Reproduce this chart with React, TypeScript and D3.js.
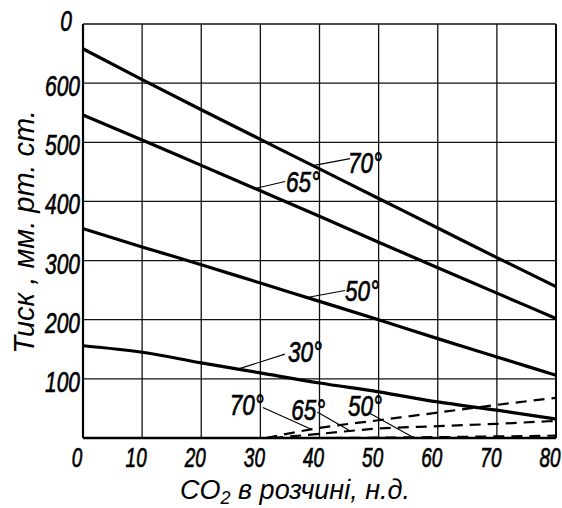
import React from 'react';
import * as d3 from 'd3';

// ---- data ----
const co2 = [0, 10, 20, 30, 40, 50, 60, 70, 80];
const p70 = [658, 606, 555, 505, 455, 405, 355, 305, 256];
const p65 = [546, 504, 461, 418, 375, 331, 288, 245, 202];
const p50 = [354, 323, 293, 262, 231, 200, 168, 137, 106];
const p30 = [156, 145, 127, 110, 93, 78, 61, 47, 32];

const d70x = [31, 40, 50, 60, 70, 80];
const d70y = [0, 17, 30, 43, 56, 68];
const d65x = [32, 40, 50, 60, 70, 80];
const d65y = [0, 7, 16, 20, 24, 29];
const d50x = [42, 55, 80];
const d50y = [0, 1, 4];

const xTicks = [0, 10, 20, 30, 40, 50, 60, 70, 80];
const xTickLabels = ['0', '10', '20', '30', '40', '50', '60', '70', '80'];
const yTicks = [100, 200, 300, 400, 500, 600, 700];
const yTickLabels = ['100', '200', '300', '400', '500', '600', '0'];

const solidSeries = [
  { name: '70°', xs: co2, ys: p70 },
  { name: '65°', xs: co2, ys: p65 },
  { name: '50°', xs: co2, ys: p50 },
  { name: '30°', xs: co2, ys: p30 },
];
const dashedSeries = [
  { name: '70°', xs: d70x, ys: d70y },
  { name: '65°', xs: d65x, ys: d65y },
  { name: '50°', xs: d50x, ys: d50y },
];

// annotation: which curve, where the leader touches it, leader end & text offsets (px)
const annotations = [
  { label: '70°', dashed: false, idx: 0, at: 38.9, lx: 37, ly: -7, tx: 35, ty: 7, anchor: 'start' },
  { label: '65°', dashed: false, idx: 1, at: 29.1, lx: 30, ly: -7, tx: 31, ty: 4, anchor: 'start' },
  { label: '50°', dashed: false, idx: 2, at: 37.9, lx: 38, ly: -7, tx: 38, ty: 3, anchor: 'start' },
  { label: '30°', dashed: false, idx: 3, at: 26.2, lx: 47, ly: -15, tx: 50, ty: -7, anchor: 'start' },
  { label: '70°', dashed: true, idx: 0, at: 38.7, lx: -49, ly: -22, tx: -48, ty: -14, anchor: 'end' },
  { label: '65°', dashed: true, idx: 1, at: 45.2, lx: -33, ly: -19, tx: -25, ty: -11, anchor: 'end' },
  { label: '50°', dashed: true, idx: 2, at: 55.8, lx: -45, ly: -25, tx: -31, ty: -21, anchor: 'end' },
];

const W = 562;
const H = 508;
const X0 = 83, X1 = 556, Y0 = 438, Y1 = 24;

const FONT = "'Liberation Sans', Arial, sans-serif";

function NarrowText({ x, y, size, anchor = 'start', children, sx = 0.7 }: any) {
  return (
    <g transform={`translate(${x},${y}) scale(${sx},1)`}>
      <text
        textAnchor={anchor}
        fontSize={size}
        fontStyle="italic"
        fontFamily={FONT}
        fill="#000"
        stroke="#000"
        strokeWidth={0.7}
      >
        {children}
      </text>
    </g>
  );
}

export default function App() {
  const x = d3.scaleLinear().domain([0, 80]).range([X0, X1]);
  const y = d3.scaleLinear().domain([0, 700]).range([Y0, Y1]);

  const line = (xs: number[], ys: number[]) =>
    d3
      .line<number>()
      .x((_, i) => x(xs[i]))
      .y((d) => y(d))
      .curve(d3.curveMonotoneX)(ys) as string;

  return (
    <svg
      width={W}
      height={H}
      viewBox={`0 0 ${W} ${H}`}
      style={{ position: 'absolute', left: 0, top: 0, background: '#fff' }}
    >
      <rect x={0} y={0} width={W} height={H} fill="#fff" />
      {/* grid */}
      <g stroke="#111" strokeWidth={1.3}>
        {xTicks.map((t) => (
          <line key={'vx' + t} x1={x(t)} x2={x(t)} y1={y(700)} y2={y(0)} />
        ))}
        {yTicks.map((t) => (
          <line key={'hy' + t} x1={x(0)} x2={x(80)} y1={y(t)} y2={y(t)} />
        ))}
      </g>
      {/* axes frame */}
      <line x1={x(0)} x2={x(80)} y1={y(0)} y2={y(0)} stroke="#000" strokeWidth={2.6} />
      <line x1={x(0)} x2={x(0)} y1={y(700)} y2={y(0)} stroke="#000" strokeWidth={2.2} />
      <line x1={x(80)} x2={x(80)} y1={y(700)} y2={y(0)} stroke="#000" strokeWidth={1.8} />

      {/* solid curves */}
      {solidSeries.map((s) => (
        <path key={'s' + s.name} d={line(s.xs, s.ys)} fill="none" stroke="#000" strokeWidth={3.2} />
      ))}
      {/* dashed curves */}
      {dashedSeries.map((s) => (
        <path
          key={'d' + s.name}
          d={line(s.xs, s.ys)}
          fill="none"
          stroke="#000"
          strokeWidth={2.2}
          strokeDasharray="11 7"
        />
      ))}

      {/* annotations */}
      {annotations.map((a, i) => {
        const s = a.dashed ? dashedSeries[a.idx] : solidSeries[a.idx];
        const interp = d3.scaleLinear().domain(s.xs).range(s.ys);
        const px = x(a.at);
        const py = y(interp(a.at));
        return (
          <g key={'a' + i}>
            <line x1={px} y1={py} x2={px + a.lx} y2={py + a.ly} stroke="#000" strokeWidth={1.1} />
            <NarrowText x={px + a.tx} y={py + a.ty} size={30} anchor={a.anchor} sx={0.75}>
              {a.label}
            </NarrowText>
          </g>
        );
      })}

      {/* y tick labels */}
      {yTicks.map((t, i) => {
        const last = i === yTicks.length - 1;
        return (
          <NarrowText key={'yl' + t} x={last ? 72 : 80} y={y(t) + (last ? 7 : 13)} size={30} anchor="end">
            {yTickLabels[i]}
          </NarrowText>
        );
      })}
      {/* x tick labels */}
      {xTicks.map((t, i) => (
        <NarrowText key={'xl' + t} x={x(t) - 6} y={467} size={27} anchor="middle">
          {xTickLabels[i]}
        </NarrowText>
      ))}

      {/* axis titles */}
      <text
        transform="translate(34,232) rotate(-90)"
        textAnchor="middle"
        fontSize={29}
        fontStyle="italic"
        fontFamily={FONT}
        fill="#000"
      >
        Тиск , мм. рт. ст.
      </text>
      <text x={180} y={499} fontSize={27} fontStyle="italic" fontFamily={FONT} fill="#000">
        CO
        <tspan fontSize={18} dy={5}>2</tspan>
        <tspan dy={-5}> в розчині, н.д.</tspan>
      </text>
    </svg>
  );
}
